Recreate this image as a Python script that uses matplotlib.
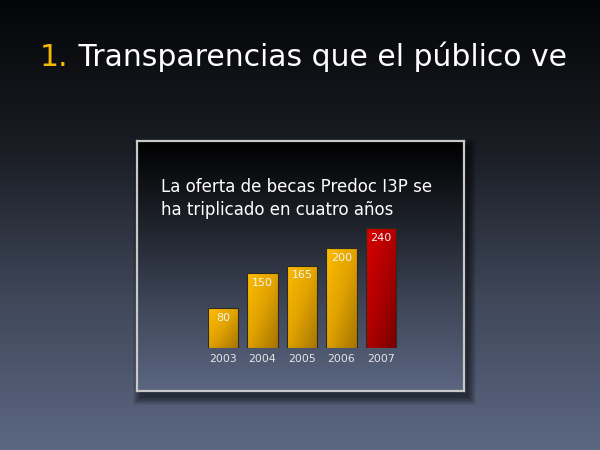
import numpy as np
import matplotlib
matplotlib.use("Agg")
import matplotlib.pyplot as plt
from matplotlib.colors import LinearSegmentedColormap
from matplotlib.patches import Rectangle

years = ["2003", "2004", "2005", "2006", "2007"]
values = [80, 150, 165, 200, 240]
value_labels = ["80", "150", "165", "200", "240"]
title_num = "1."
title_text = "Transparencias que el público ve"
subtitle = "La oferta de becas Predoc I3P se\nha triplicado en cuatro años"

W, H = 600, 450
fig = plt.figure(figsize=(6, 4.5), dpi=100)

def px(x0, y0, x1, y1):
    return [x0 / W, 1 - y1 / H, (x1 - x0) / W, (y1 - y0) / H]

# background gradient
bg = fig.add_axes([0, 0, 1, 1])
bg.set_axis_off()
bg_cmap = LinearSegmentedColormap.from_list("bg", ["#040507", "#1a1d24", "#3f4759", "#5c6782"])
grad = np.linspace(0, 1, 256).reshape(-1, 1)
bg.imshow(grad, aspect="auto", cmap=bg_cmap, extent=(0, 1, 0, 1), origin="upper")
bg.set_xlim(0, 1)
bg.set_ylim(0, 1)

# title
t1 = fig.text(40 / W, 1 - 66 / H, title_num, color="#f5b800", fontsize=21.5,
              fontfamily="DejaVu Sans", va="baseline", ha="left")
bg.annotate(" " + title_text, xy=(1, 0), xycoords=t1, va="bottom", ha="left",
            color="white", fontsize=21.5, fontfamily="DejaVu Sans")

# panel shadow (soft)
for i in range(14):
    r = Rectangle(((137 + 4 - i * 0.6) / W, 1 - (391 + 6 + i * 0.6) / H),
                  (327 + i * 1.2) / W, (250 + i * 1.2) / H, transform=fig.transFigure,
                  facecolor="black", alpha=0.045, edgecolor="none", zorder=0.5)
    bg.add_patch(r)

# panel
panel = fig.add_axes(px(137, 141, 464, 391))
panel_cmap = LinearSegmentedColormap.from_list("pn", ["#000000", "#1e222b", "#3f4759", "#5b6681"])
panel.imshow(grad, aspect="auto", cmap=panel_cmap, extent=(0, 1, 0, 1), origin="upper")
panel.set_xlim(0, 1)
panel.set_ylim(0, 1)
panel.set_xticks([])
panel.set_yticks([])
for s in panel.spines.values():
    s.set_color("#c8c8c8")
    s.set_linewidth(1.6)

fig.text(161 / W, 1 - 178 / H, subtitle, color="white", fontsize=12,
         fontfamily="DejaVu Sans", va="top", ha="left", linespacing=1.35)

# bars
ax = fig.add_axes(px(203.25, 218, 400.75, 348))
ax.set_axis_off()
ax.patch.set_alpha(0)

gold = LinearSegmentedColormap.from_list("gold", ["#ffbd00", "#e0a200", "#a47400"])
red = LinearSegmentedColormap.from_list("red", ["#d80000", "#b00000", "#760000"])
xs = np.arange(len(values))
width = 0.76
bars = ax.bar(xs, values, width=width, facecolor="none", edgecolor="#2e2a22", linewidth=0.8, zorder=3)
gx, gy = np.meshgrid(np.linspace(0, 1, 64), np.linspace(0, 1, 64))
diag = (gx + gy) / 2
for i, (b, v) in enumerate(zip(bars, values)):
    cmap = red if i == len(values) - 1 else gold
    im = ax.imshow(diag, cmap=cmap, aspect="auto", origin="upper",
                   extent=(xs[i] - width / 2, xs[i] + width / 2, 0, v), zorder=2)
    im.set_clip_path(b)
    ax.annotate(value_labels[i], xy=(xs[i], v), xytext=(0, -3.5), textcoords="offset points",
                ha="center", va="top", color="#f2f2f2", fontsize=8, fontfamily="DejaVu Sans", zorder=4)
    ax.annotate(years[i], xy=(xs[i], 0), xytext=(0, -8), textcoords="offset points",
                ha="center", va="center", color="#e6e6e6", fontsize=7.8, fontfamily="DejaVu Sans",
                annotation_clip=False)
ax.set_xlim(-0.5, 4.5)
ax.set_ylim(0, 260)

fig.savefig("out.png", dpi=100)
